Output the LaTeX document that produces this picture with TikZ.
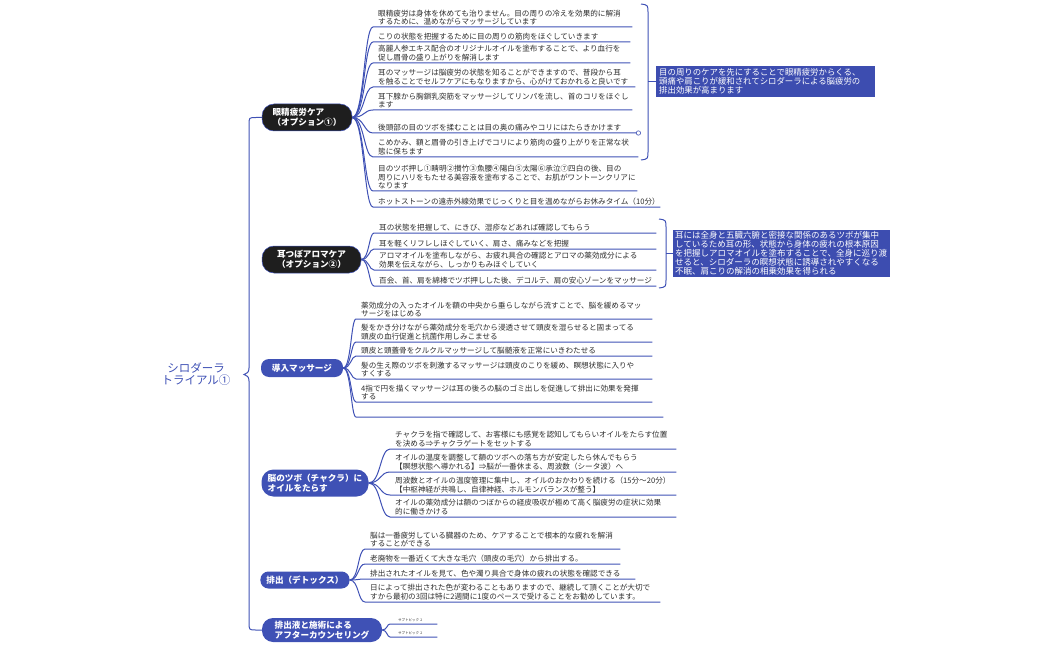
\documentclass[tikz,border=0pt]{standalone}
\usepackage{fontspec}
\setmainfont{Noto Sans CJK JP}
\definecolor{lb}{RGB}{63,81,181}
\definecolor{bx}{RGB}{61,77,176}
\definecolor{nodeblack}{RGB}{30,30,30}
\definecolor{txt}{RGB}{45,45,45}
\tikzset{
 ln/.style={draw=lb, line width=1pt},
 itm/.style={anchor=south west, inner xsep=5pt, inner ysep=1.8pt, align=left, text width=#1, font=\fontsize{7.6}{8.4}\selectfont, text=txt},
 br/.style n args={2}{to path={.. controls ([xshift=#1]\tikztostart) and ([xshift=-#2]\tikztotarget) .. (\tikztotarget)}},
 mainnode/.style={align=left, text=white, font=\fontsize{8.6}{9.6}\selectfont\bfseries, inner xsep=6pt, inner ysep=2pt},
 blk/.style={mainnode, fill=nodeblack, draw=lb, line width=0.5pt, rounded corners=12pt},
 blu/.style={mainnode, fill=lb, rounded corners=#1},
 sumbox/.style={fill=bx, text=white, align=left, inner xsep=2pt, inner ysep=2pt, anchor=west},
}
\begin{document}
\begin{tikzpicture}[x=1pt,y=-1pt]
\useasboundingbox (0,0) rectangle (1050,650);

% root
\node[text=lb, align=center, font=\fontsize{11.5}{12.5}\selectfont] (root) at (196,374) {シロダーラ\\トライアル①};

% main nodes
\node[blk, minimum width=90pt, minimum height=27pt] (m1) at (307,117.5) {眼精疲労ケア\\（オプション①）};
\node[blk, minimum width=99pt, minimum height=27pt] (m2) at (311.5,259.5) {耳つぼアロマケア\\（オプション②）};
\node[blu=8pt, minimum width=82pt, minimum height=18pt] (m3) at (302,368) {導入マッサージ};
\node[blu=12pt, minimum width=107pt, minimum height=27pt] (m4) at (315,483) {脳のツボ（チャクラ）に\\オイルをたらす};
\node[blu=8pt, minimum width=87pt, minimum height=17pt] (m5) at (305,580) {排出（デトックス）};
\node[blu=11pt, minimum width=120pt, minimum height=24pt] (m6) at (322,630) {排出液と施術による\\アフターカウンセリング};

% root brace
\draw[ln] (m1.west) -- (256,117.5) .. controls (249,117.5) .. (249,125) -- (249,368)
  .. controls (249,372) and (247,374) .. (244,374.5)
  .. controls (247,375) and (249,377) .. (249,381) -- (249,622)
  .. controls (249,630) .. (256,630) -- (m6.west);

% group 1
\node[itm=249pt] (a1) at (373,27) {眼精疲労は身体を休めても治りません。目の周りの冷えを効果的に解消\\するために、温めながらマッサージしています};
\node[itm=247pt] (a2) at (373,42) {こりの状態を把握するために目の周りの筋肉をほぐしていきます};
\node[itm=247pt] (a3) at (373,63) {高麗人参エキス配合のオリジナルオイルを塗布することで、より血行を\\促し眉骨の盛り上がりを解消します};
\node[itm=252pt] (a4) at (373,87) {耳のマッサージは脳疲労の状態を知ることができますので、普段から耳\\を触ることでセルフケアにもなりますから、心がけておかれると良いです};
\node[itm=249pt] (a5) at (373,110) {耳下腺から胸鎖乳突筋をマッサージしてリンパを流し、首のコリをほぐし\\ます};
\node[itm=255pt] (a6) at (373,133) {後頭部の目のツボを揉むことは目の奥の痛みやコリにはたらきかけます};
\node[itm=255pt] (a7) at (373,157) {こめかみ、額と眉骨の引き上げでコリにより筋肉の盛り上がりを正常な状\\態に保ちます};
\node[itm=254pt] (a8) at (373,191) {目のツボ押し①睛明②攅竹③魚腰④陽白⑤太陽⑥承泣⑦四白の後、目の\\周りにハリをもたせる美容液を塗布することで、お肌がワントーンクリアに\\なります};
\node[itm=277pt] (a9) at (373,207) {ホットストーンの遠赤外線効果でじっくりと目を温めながらお休みタイム（10分）};
\foreach \i in {a1,a2,a3,a4,a5,a6,a7,a8,a9}
  \draw[ln] (m1.east) to[br={12pt}{9pt}] (\i.south west) -- (\i.south east);
\draw[lb, fill=white, line width=0.6pt] (a6.south east) circle (2.2pt);

% summary 1
\node[sumbox, inner xsep=3pt, text width=213pt, minimum height=31pt, font=\fontsize{8.4}{9}\selectfont] (s1) at (656,81.5) {目の周りのケアを先にすることで眼精疲労からくる、\\頭痛や肩こりが緩和されてシロダーラによる脳疲労の\\排出効果が高まります};
\draw[ln] (641,4) .. controls (648,5) .. (648,13) -- (648,151) .. controls (648,159) .. (641,160);
\draw[ln] (648,81.5) -- (s1.west);

% group 2
\node[itm=272pt] (b1) at (374,233) {耳の状態を把握して、にきび、湿疹などあれば確認してもらう};
\node[itm=272pt] (b2) at (374,249) {耳を軽くリフレしほぐしていく、肩さ、痛みなどを把握};
\node[itm=272pt] (b3) at (374,270) {アロマオイルを塗布しながら、お疲れ具合の確認とアロマの薬効成分による\\効果を伝えながら、しっかりもみほぐしていく};
\node[itm=272pt] (b4) at (374,286) {百会、首、肩を綿棒でツボ押しした後、デコルテ、肩の安心ゾーンをマッサージ};
\foreach \i in {b1,b2,b3,b4}
  \draw[ln] (m2.east) to[br={8pt}{5pt}] (\i.south west) -- (\i.south east);

% summary 2
\node[sumbox, text width=213pt, minimum height=47pt, font=\fontsize{8.5}{9}\selectfont] (s2) at (673,253.5) {耳には全身と五臓六腑と密接な関係のあるツボが集中\\しているため耳の形、状態から身体の疲れの根本原因\\を把握しアロマオイルを塗布することで、全身に巡り渡\\せると、シロダーラの瞑想状態に誘導されやすくなる\\不眠、肩こりの解消の相乗効果を得られる};
\draw[ln] (659,219) .. controls (666,220) .. (666,228) -- (666,279) .. controls (666,287) .. (659,288);
\draw[ln] (666,253.5) -- (s2.west);

% group 3
\node[itm=286pt] (c1) at (356,319) {薬効成分の入ったオイルを額の中央から垂らしながら流すことで、脳を緩めるマッ\\サージをはじめる};
\node[itm=286pt] (c2) at (356,342) {髪をかき分けながら薬効成分を毛穴から浸透させて頭皮を湿らせると固まってる\\頭皮の血行促進と抗菌作用しみこませる};
\node[itm=286pt] (c3) at (356,356) {頭皮と頭蓋骨をクルクルマッサージして脳髄液を正常にいきわたせる};
\node[itm=286pt] (c4) at (356,379) {髪の生え際のツボを刺激するマッサージは頭皮のこりを緩め、瞑想状態に入りや\\すくする};
\node[itm=286pt] (c5) at (356,402) {4指で円を描くマッサージは耳の後ろの脳のゴミ出しを促進して排出に効果を発揮\\する};
\node[itm=297pt] (c6) at (356,417) {};
\foreach \i in {c1,c2,c3,c4,c5,c6}
  \draw[ln] (m3.east) to[br={8pt}{5pt}] (\i.south west) -- (\i.south east);

% group 4
\node[itm=276pt] (d1) at (390,449) {チャクラを指で確認して、お客様にも感覚を認知してもらいオイルをたらす位置\\を決める⇒チャクラゲートをセットする};
\node[itm=276pt] (d2) at (390,472) {オイルの温度を調整して額のツボへの落ち方が安定したら休んでもらう\\【瞑想状態へ導かれる】⇒脳が一番休まる、周波数（シータ波）へ};
\node[itm=276pt] (d3) at (390,495) {周波数とオイルの温度管理に集中し、オイルのおかわりを続ける（15分～20分）\\【中枢神経が共鳴し、自律神経、ホルモンバランスが整う】};
\node[itm=276pt] (d4) at (390,517) {オイルの薬効成分は額のつぼからの経皮吸収が極めて高く脳疲労の症状に効果\\的に働きかける};
\foreach \i in {d1,d2,d3,d4}
  \draw[ln] (m4.east) to[br={12pt}{10pt}] (\i.south west) -- (\i.south east);

% group 5
\node[itm=245pt] (e1) at (365,549) {脳は一番疲労している臓器のため、ケアすることで根本的な疲れを解消\\することができる};
\node[itm=245pt] (e2) at (365,564) {老廃物を一番近くて大きな毛穴（頭皮の毛穴）から排出する。};
\node[itm=260pt] (e3) at (365,579) {排出されたオイルを見て、色や濁り具合で身体の疲れの状態を確認できる};
\node[itm=285pt] (e4) at (365,602) {日によって排出された色が変わることもありますので、継続して頂くことが大切で\\すから最初の3回は特に2週間に1度のペースで受けることをお勧めしています。};
\foreach \i in {e1,e2,e3,e4}
  \draw[ln] (m5.east) to[br={9pt}{7pt}] (\i.south west) -- (\i.south east);

% group 6
\node[itm=31pt, inner xsep=8pt, font=\fontsize{3.5}{4}\selectfont] (f1) at (390,624) {サブトピック 2};
\node[itm=31pt, inner xsep=8pt, font=\fontsize{3.5}{4}\selectfont] (f2) at (390,637) {サブトピック 2};
\foreach \i in {f1,f2}
  \draw[ln] (m6.east) to[br={5pt}{3pt}] (\i.south west) -- (\i.south east);
\end{tikzpicture}
\end{document}
